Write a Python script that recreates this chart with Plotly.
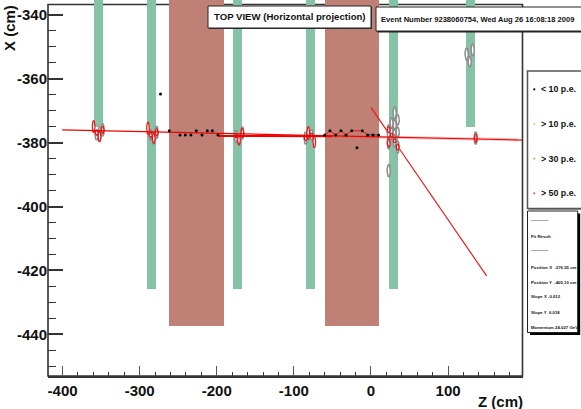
import numpy as np
import plotly.graph_objects as go

FONT = "Liberation Sans"
W, H = 581, 409

# ---- detector bands
green_z = [-353.5, -284.7, -173.0, -78.5, 29.0, 129.0]
green_w = [11.7, 11.7, 11.7, 11.7, 11.7, 11.7]
green_bottom = [-375.0, -425.7, -425.7, -425.7, -425.7, -375.0]
brown_z = [-226.3, -24.6]
brown_w = [71.3, 70.0]
brown_bottom = [-437.5, -437.5]
band_top = -330.0

# ---- low light hits
dot_z = [-273.0, -261.6, -247.7, -240.8, -233.5, -226.6, -219.2, -212.3, -205.8, -198.4,
         -60.0, -53.2, -45.8, -38.9, -32.4, -25.0, -18.2, -11.3, -4.3, 2.6, 10.0]
dot_x = [-364.8, -376.3, -377.6, -377.6, -377.6, -376.3, -377.6, -376.3, -376.3, -377.6,
         -377.6, -376.3, -377.6, -376.3, -377.6, -376.3, -381.6, -376.3, -377.6, -377.6, -377.6]

# ---- gray hits
gray_z = [-355.8, -352.1, -348.0, -285.7, -281.8, -278.0, -175.1, -171.2, -166.9,
          -84.7, -76.9, 23.0, 23.0, 23.0, 26.8, 26.8, 30.7, 30.7, 30.7, 30.7,
          34.6, 34.6, 34.6, 135.8, 124.1, 128.0, 131.9]
gray_x = [-377.6, -377.4, -376.0, -377.6, -378.6, -376.8, -378.1, -379.2, -377.0,
          -378.6, -377.6, -376.6, -380.1, -388.8, -373.9, -377.1, -370.7, -374.5, -377.1, -379.4,
          -372.9, -376.8, -381.4, -378.6, -352.3, -354.7, -351.0]
gray_h = [1.6, 2.2, 1.9, 1.6, 1.9, 1.9, 1.9, 1.7, 1.9,
          1.9, 1.7, 2.2, 1.9, 1.9, 1.6, 1.9, 1.9, 1.6, 1.6, 1.9,
          1.6, 1.6, 1.9, 1.9, 1.9, 1.6, 1.9]

# ---- red hits
red_z = [-359.7, -355.8, -352.1, -348.0, -289.2, -285.7, -281.8, -278.0, -175.1, -171.2, -166.9,
         -84.7, -81.3, -76.9, -73.5, 23.0, 23.0, 26.8, 30.7, 34.6, 135.8]
red_x = [-375.0, -376.9, -378.1, -376.0, -375.5, -377.6, -378.6, -376.8, -378.0, -379.2, -377.0,
         -378.6, -377.0, -377.6, -379.7, -376.0, -380.1, -377.6, -379.4, -381.4, -378.6]
red_h = [1.9, 0.8, 1.7, 1.1, 1.9, 0.8, 1.6, 1.1, 0.5, 1.4, 1.4,
         0.8, 2.0, 0.5, 1.9, 0.95, 1.25, 0.5, 0.6, 0.95, 1.25]
gray_half_width = 2.1
red_half_width = 1.7

# ---- fits and tracks
fit_z = [-400.4, 195.8]
fit_x = [-376.0, -379.2]
fit_thick_z = [-198.0, -50.0]
fit_thick_x = [-377.9, -378.0]
fit_pale_z = [-50.0, 190.0]
fit_pale_x = [-378.0, -379.1]
track_z = [0.0, 21.0, None, 35.0, 150.0]
track_x = [-369.0, -376.4, None, -381.3, -421.7]
zig_z = [-60.0, -53.2, -45.8, -38.9, -32.4, -25.0, -11.3, -4.3]
zig_x = [-377.6, -376.3, -377.6, -376.3, -377.6, -376.3, -376.3, -377.6]
dark_z = [-4.3, 2.6, 10.0]
dark_x = [-377.6, -377.6, -377.6]

# ---- texts
title_text = "TOP VIEW (Horizontal projection)"
event_text = "Event Number 9238060754, Wed Aug 26 16:08:18 2009"
legend_labels = ["< 10 p.e.", "> 10 p.e.", "> 30 p.e.", "> 50 p.e."]
legend_colors = ["#000000", "#E8C488", "#E0A584", "#E2606E"]
fit_lines = ["\u2014\u2014\u2014\u2014", "Fit Result", "\u2014\u2014\u2014\u2014",
             "Position X  -376.55 cm", "Position Y  -405.10 cm",
             "Slope X -0.012", "Slope Y  0.018", "Momentum 24.027 GeV"]


def ellipses(zs, xs, hs, hw):
    out_z, out_x = [], []
    t = np.linspace(0, 2 * np.pi, 25)
    for z, x, h in zip(zs, xs, hs):
        out_z += list(z + hw * np.cos(t)) + [None]
        out_x += list(x + h * np.sin(t)) + [None]
    return out_z, out_x


def px(x):
    return x / W


def py(y):
    return 1 - y / H


fig = go.Figure()
fig.add_trace(go.Bar(x=green_z, width=green_w, base=green_bottom,
                     y=[band_top - b for b in green_bottom],
                     marker=dict(color="#86C2A6", line_width=0), showlegend=False))
fig.add_trace(go.Bar(x=brown_z, width=brown_w, base=brown_bottom,
                     y=[band_top - b for b in brown_bottom],
                     marker=dict(color="#BF8176", line_width=0), showlegend=False))
fig.add_trace(go.Scatter(x=track_z, y=track_x, mode="lines",
                         line=dict(color="#F01818", width=1.2), showlegend=False))
gz, gx = ellipses(gray_z, gray_x, gray_h, gray_half_width)
fig.add_trace(go.Scatter(x=gz, y=gx, mode="lines", fill="toself", fillcolor="#FFFFFF",
                         line=dict(color="#8C8C8C", width=1.5), showlegend=False))
rz, rx = ellipses(red_z, red_x, red_h, red_half_width)
fig.add_trace(go.Scatter(x=rz, y=rx, mode="lines", fill="toself", fillcolor="#FFFFFF",
                         line=dict(color="#EE1111", width=1.2), showlegend=False))
fig.add_trace(go.Scatter(x=dark_z, y=dark_x, mode="lines",
                         line=dict(color="#444444", width=1), showlegend=False))
fig.add_trace(go.Scatter(x=fit_pale_z, y=fit_pale_x, mode="lines",
                         line=dict(color="rgba(255,60,60,0.3)", width=3), showlegend=False))
fig.add_trace(go.Scatter(x=fit_z, y=fit_x, mode="lines",
                         line=dict(color="#F00000", width=1.2), showlegend=False))
fig.add_trace(go.Scatter(x=fit_thick_z, y=fit_thick_x, mode="lines",
                         line=dict(color="#F00000", width=2), showlegend=False))
fig.add_trace(go.Scatter(x=zig_z, y=zig_x, mode="lines",
                         line=dict(color="#F01010", width=1), showlegend=False))
fig.add_trace(go.Scatter(x=dot_z, y=dot_x, mode="markers",
                         marker=dict(color="#000000", size=3), showlegend=False))

shapes = []
annots = []


def box(x0, y0, x1, y1, line="#222222", lw=1, shadow=None, sh=2):
    if shadow:
        shapes.append(dict(type="rect", xref="paper", yref="paper",
                           x0=px(x0 + sh), x1=px(x1 + sh), y0=py(y1 + sh), y1=py(y0 + sh),
                           fillcolor=shadow, line_width=0, layer="above"))
    shapes.append(dict(type="rect", xref="paper", yref="paper",
                       x0=px(x0), x1=px(x1), y0=py(y1), y1=py(y0),
                       fillcolor="#FFFFFF", line=dict(color=line, width=lw), layer="above"))


def text(x, y, s, size, anchor="left", color="#111111", angle=0):
    annots.append(dict(xref="paper", yref="paper", x=px(x), y=py(y), text="<b>" + s + "</b>",
                       showarrow=False, xanchor=anchor, yanchor="middle", textangle=angle,
                       font=dict(family=FONT, size=size, color=color)))


# plot frame, underneath the bands
shapes.append(dict(type="rect", xref="paper", yref="paper",
                   x0=px(48), x1=px(522.5), y0=py(376), y1=py(4.5),
                   line=dict(color="#333333", width=1.6), layer="below"))

box(208, 6, 371, 28, lw=1, shadow="#333333", sh=1)
text(289.5, 16.5, title_text, 9.6, anchor="center")
box(376, 7, 590, 31, lw=1, shadow="#222222", sh=1.5)
text(379, 19.5, event_text, 7.55)
box(527.5, 71, 590, 208.5, line="#555555", lw=1.5, shadow="#333333", sh=1)
for y, lab, col in zip([89.3, 124, 158.7, 193.3], legend_labels, legend_colors):
    shapes.append(dict(type="circle", xref="paper", yref="paper",
                       x0=px(533.2), x1=px(535.4), y0=py(y + 1.1), y1=py(y - 1.1),
                       fillcolor=col, line_width=0, layer="above"))
    text(538.7, y, lab, 8.8)
box(527.5, 211, 577.7, 332.5, lw=1, shadow="#000000", sh=2.5)
for y, s in zip([220, 236, 250, 267, 282, 296, 312, 327], fit_lines):
    text(529, y, s, 4.3)

text(9.5, 28.5, "X (cm)", 15, anchor="center", angle=-90)
text(500, 401.5, "Z (cm)", 15, anchor="center")

fig.update_layout(
    width=W, height=H, autosize=False,
    margin=dict(l=0, r=0, t=0, b=0),
    paper_bgcolor="#FFFFFF", plot_bgcolor="#FFFFFF",
    barmode="overlay", bargap=0,
    showlegend=False, shapes=shapes, annotations=annots,
    font=dict(family=FONT, color="#111111"),
    xaxis=dict(domain=[48 / W, 522.5 / W], range=[-418.9, 196.5], showgrid=False, zeroline=False,
               tickmode="array", tickvals=[-400, -300, -200, -100, 0, 100],
               ticktext=["<b>%d</b>" % v for v in [-400, -300, -200, -100, 0, 100]],
               ticks="inside", ticklen=10, tickwidth=1, tickcolor="#555555",
               minor=dict(dtick=20, tick0=0, ticks="inside", ticklen=4, tickwidth=1, tickcolor="#333333", showgrid=False),
               tickfont=dict(family=FONT, size=15, color="#111111"),
               showline=True, linecolor="#333333", linewidth=1.6),
    yaxis=dict(domain=[(H - 376) / H, 1], range=[-453.0, -335.4], showgrid=False, zeroline=False,
               tickmode="array", tickvals=[-340, -360, -380, -400, -420, -440],
               ticktext=["<b>%d</b>" % v for v in [-340, -360, -380, -400, -420, -440]],
               ticks="inside", ticklen=15, tickwidth=1.5, tickcolor="#333333",
               minor=dict(dtick=5, tick0=-340, ticks="inside", ticklen=8, tickwidth=1, tickcolor="#333333", showgrid=False),
               tickfont=dict(family=FONT, size=15, color="#111111"),
               showline=False),
)

fig.write_html("out.html", config=dict(displayModeBar=False),
               post_script="document.body.style.margin='0';document.documentElement.style.overflow='hidden';")
